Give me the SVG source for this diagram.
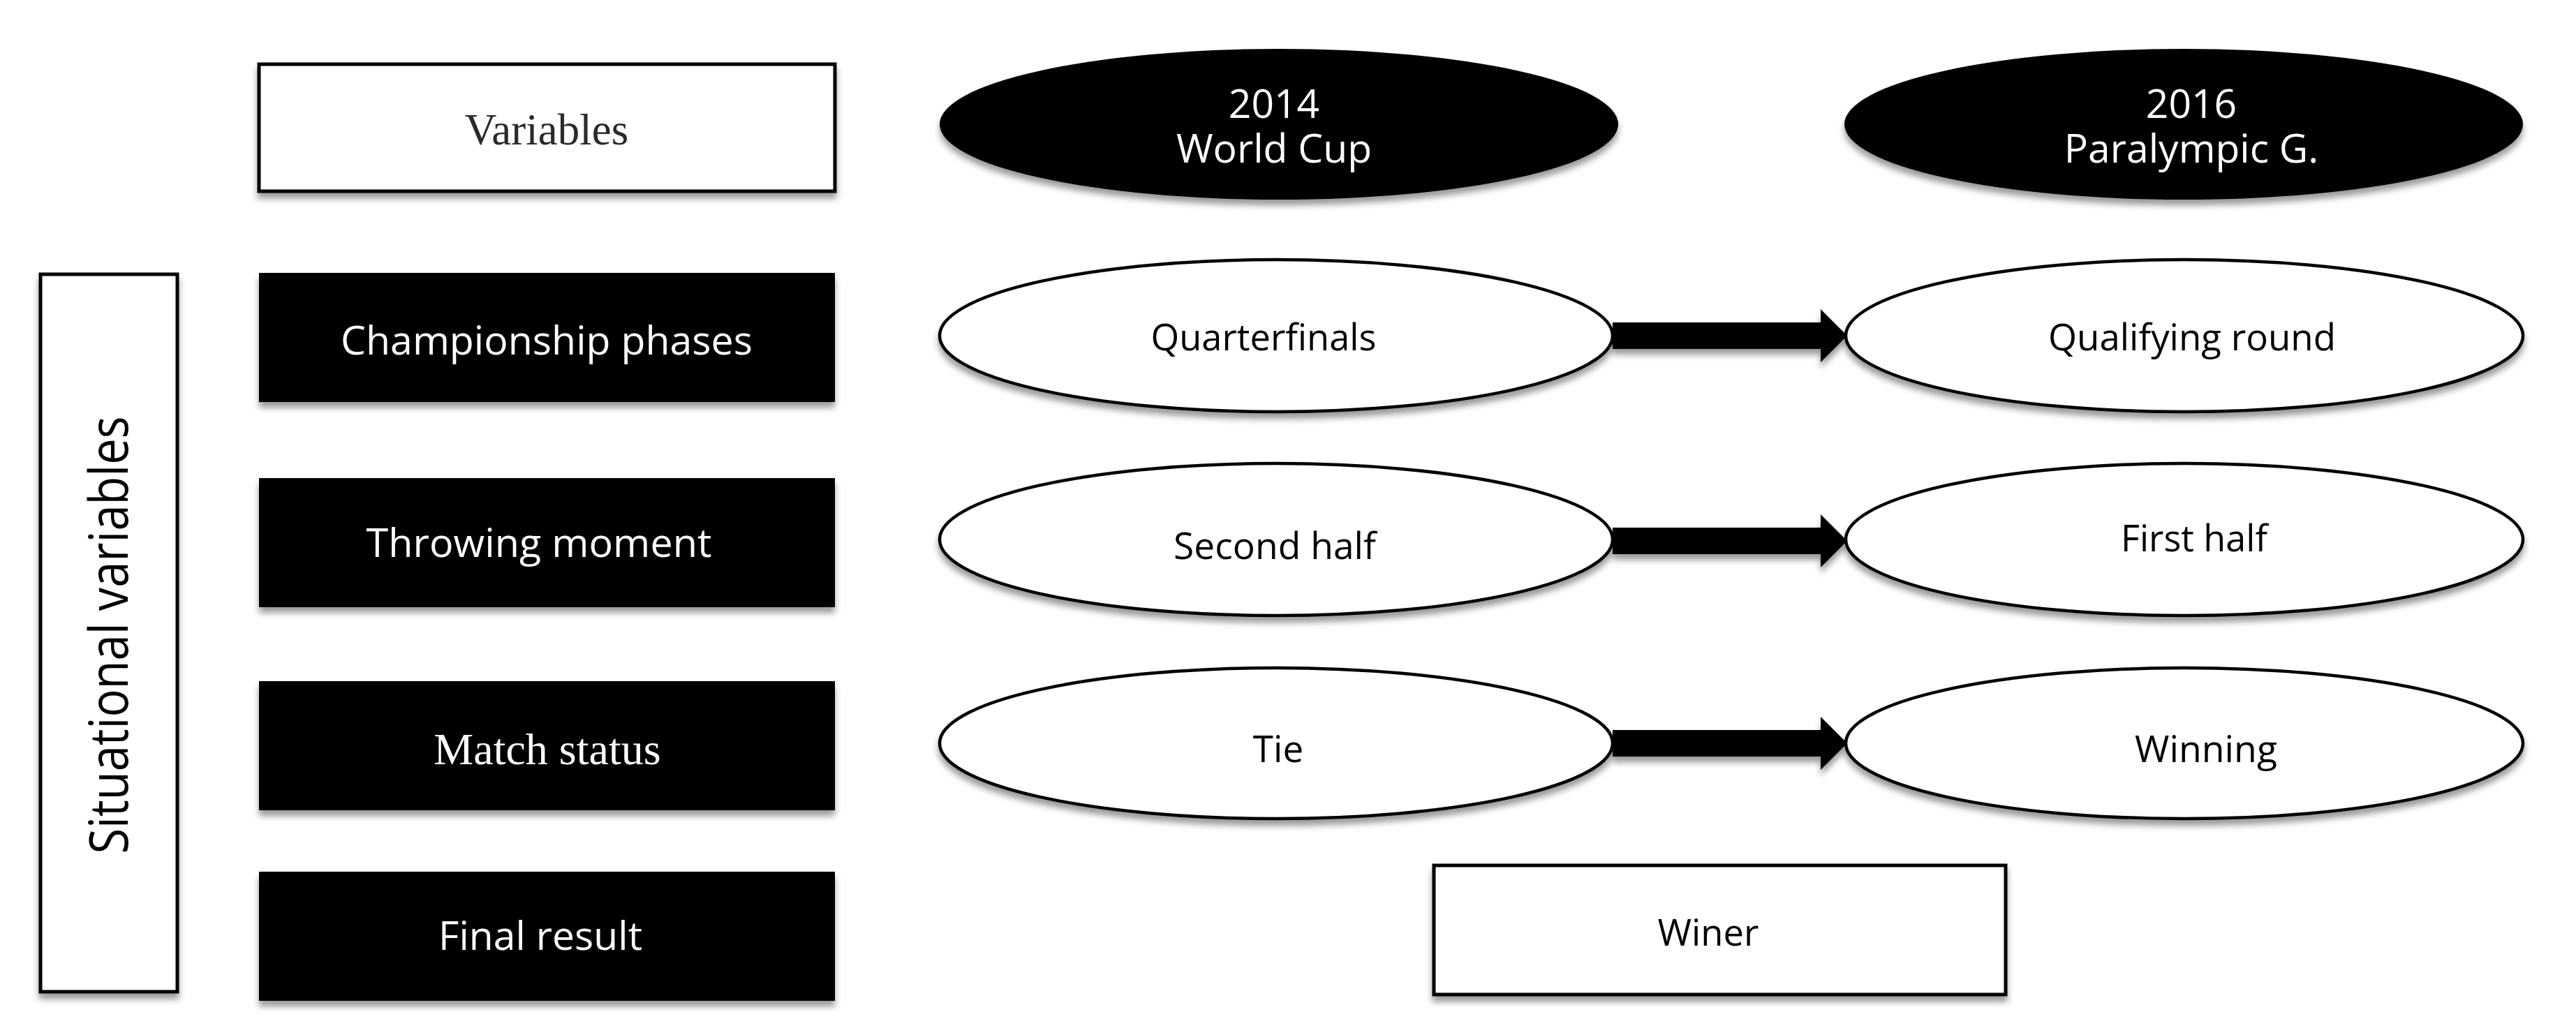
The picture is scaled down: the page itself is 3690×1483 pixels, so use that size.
<svg xmlns="http://www.w3.org/2000/svg" width="3690" height="1483" viewBox="0 0 3690 1483">
<style>
.wbox{fill:#ffffff;stroke:#000000;stroke-width:5;filter:url(#sh)}
.bbox{fill:#000000;filter:url(#sh)}
.well{fill:#ffffff;stroke:#000000;stroke-width:4.5;filter:url(#sh)}
.bell{fill:#000000;filter:url(#sh)}
.sans{font-family:"Open Sans","Noto Sans","DejaVu Sans",sans-serif;text-anchor:middle;font-weight:500}
.serif{font-family:"Liberation Serif","Times New Roman",serif;text-anchor:middle}
.lab{font-size:57px;fill:#ffffff}
.elab{font-size:53px;fill:#000000}
.arrow{fill:#000000;filter:url(#sh)}
</style>
<defs>
<filter id="sh" x="-10%" y="-20%" width="120%" height="150%">
<feDropShadow dx="0" dy="8" stdDeviation="5" flood-color="#000000" flood-opacity="0.4"/>
</filter>
</defs>
<rect width="3690" height="1483" fill="#ffffff"/>

<g id="connectors">
<path class="arrow" d="M2310,462 L2608,462 L2608,443 L2646,481 L2608,519 L2608,500 L2310,500 Z"/>
<path class="arrow" d="M2310,756 L2608,756 L2608,737 L2646,775 L2608,813 L2608,794 L2310,794 Z"/>
<path class="arrow" d="M2310,1046 L2608,1046 L2608,1027 L2646,1065 L2608,1103 L2608,1084 L2310,1084 Z"/>
</g>

<g id="variables">
<rect class="wbox" x="371" y="92" width="825" height="182"/>
<text class="serif" x="783" y="207" font-size="63" fill="#2a2a2a">Variables</text>
</g>

<g id="situational">
<rect class="wbox" x="58" y="393" width="196" height="1028"/>
<text class="sans" transform="translate(183,910) rotate(-90)" font-size="76" fill="#000000" textLength="627" lengthAdjust="spacingAndGlyphs">Situational variables</text>
</g>

<g id="championship">
<rect class="bbox" x="371" y="391" width="825" height="185"/>
<text class="sans lab" x="783" y="508" textLength="590" lengthAdjust="spacingAndGlyphs">Championship phases</text>
</g>

<g id="throwing">
<rect class="bbox" x="371" y="685" width="825" height="185"/>
<text class="sans lab" x="772" y="798" textLength="495" lengthAdjust="spacingAndGlyphs">Throwing moment</text>
</g>

<g id="match">
<rect class="bbox" x="371" y="976" width="825" height="185"/>
<text class="serif" x="784" y="1095" font-size="64" fill="#ffffff">Match status</text>
</g>

<g id="final">
<rect class="bbox" x="371" y="1249" width="825" height="185"/>
<text class="sans lab" x="774" y="1361" textLength="292" lengthAdjust="spacingAndGlyphs">Final result</text>
</g>

<g id="wc2014">
<ellipse class="bell" cx="1832" cy="178" rx="486" ry="108"/>
<text class="sans lab" font-size="56"><tspan x="1825" y="169">2014</tspan><tspan x="1825" y="233">World Cup</tspan></text>
</g>

<g id="pg2016">
<ellipse class="bell" cx="3128" cy="178" rx="486" ry="108"/>
<text class="sans lab" font-size="56"><tspan x="3139" y="169">2016</tspan><tspan x="3139" y="233">Paralympic G.</tspan></text>
</g>

<g id="quarterfinals">
<ellipse class="well" cx="1828" cy="481" rx="482" ry="109"/>
<text class="sans elab" x="1810" y="502" textLength="323" lengthAdjust="spacingAndGlyphs">Quarterfinals</text>
</g>

<g id="qualifying">
<ellipse class="well" cx="3129" cy="481" rx="485" ry="109"/>
<text class="sans elab" x="3140" y="502" textLength="412" lengthAdjust="spacingAndGlyphs">Qualifying round</text>
</g>

<g id="secondhalf">
<ellipse class="well" cx="1828" cy="773" rx="482" ry="109"/>
<text class="sans elab" x="1826" y="801" textLength="290" lengthAdjust="spacingAndGlyphs">Second half</text>
</g>

<g id="firsthalf">
<ellipse class="well" cx="3129" cy="773" rx="485" ry="109"/>
<text class="sans elab" x="3143" y="790" textLength="210" lengthAdjust="spacingAndGlyphs">First half</text>
</g>

<g id="tie">
<ellipse class="well" cx="1828" cy="1065" rx="482" ry="108"/>
<text class="sans elab" x="1831" y="1092">Tie</text>
</g>

<g id="winning">
<ellipse class="well" cx="3129" cy="1065" rx="485" ry="108"/>
<text class="sans elab" x="3160" y="1092" textLength="204" lengthAdjust="spacingAndGlyphs">Winning</text>
</g>

<g id="winer">
<rect class="wbox" x="2054" y="1240" width="819" height="185"/>
<text class="sans elab" x="2447" y="1355" textLength="145" lengthAdjust="spacingAndGlyphs">Winer</text>
</g>
</svg>
